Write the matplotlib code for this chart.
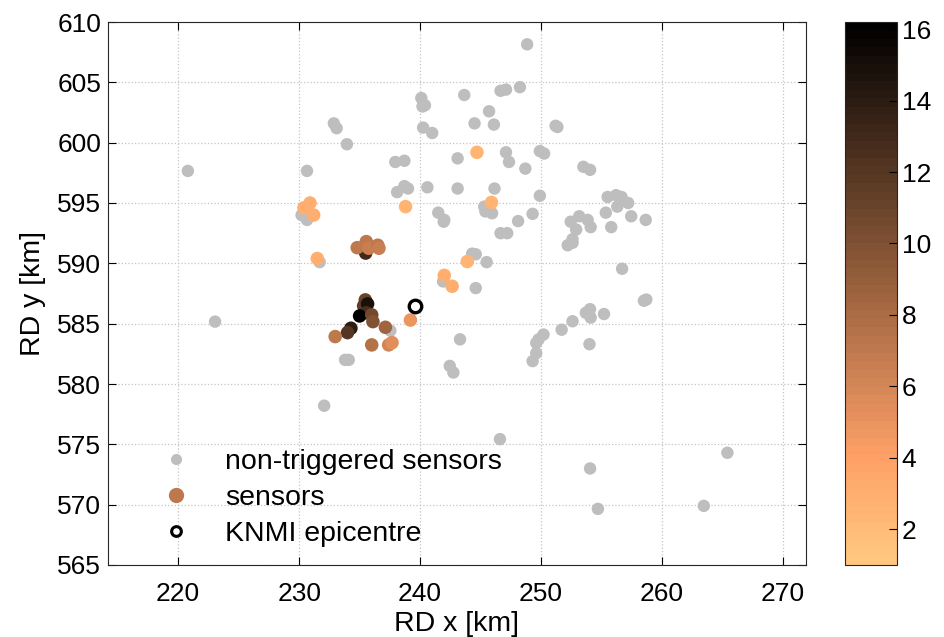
import matplotlib
matplotlib.use('Agg')
import matplotlib.pyplot as plt
import numpy as np
from matplotlib.lines import Line2D

plt.rcParams['font.family'] = ['Liberation Sans', 'DejaVu Sans']

# Non-triggered sensors (RD coordinates, km)
grey_x = [220.8, 223.05, 230.65, 232.87, 233.1, 233.95, 237.95, 238.7, 238.1, 238.7,
          239.0, 240.6, 240.1, 240.2, 240.4, 240.25, 241.0, 241.5, 242.0, 230.2,
          230.65, 248.85, 243.65, 246.65, 247.1, 248.25, 245.7, 246.1, 244.5, 251.2,
          251.35, 243.1, 247.1, 247.35, 248.7, 249.9, 250.25, 253.5, 254.05, 243.1,
          246.15, 249.9, 245.3, 245.4, 245.95, 248.1, 249.3, 246.65, 247.2, 255.5,
          256.2, 256.65, 257.2, 255.35, 256.3, 257.45, 258.65, 255.8, 252.45, 253.15,
          253.85, 254.1, 252.9, 252.6, 252.2, 252.6, 244.3, 244.6, 245.5, 241.9,
          244.6, 256.7, 258.5, 258.7, 253.7, 254.05, 254.1, 255.2, 252.6, 251.7,
          250.2, 249.6, 249.8, 249.6, 249.3, 254.0, 243.3, 242.45, 242.75, 246.6,
          254.05, 265.4, 254.7, 263.45, 232.07, 233.8, 234.1, 237.54, 231.7, 241.95]
grey_y = [597.66, 585.17, 597.66, 601.6, 601.2, 599.87, 598.4, 598.5, 595.9, 596.4,
          596.2, 596.3, 603.7, 603.0, 603.1, 601.25, 600.8, 594.2, 593.6, 594.0,
          593.6, 608.15, 603.95, 604.3, 604.4, 604.6, 602.6, 601.5, 601.6, 601.4,
          601.3, 598.7, 599.2, 598.4, 597.85, 599.3, 599.1, 598.0, 597.75, 596.2,
          596.2, 595.6, 594.7, 594.3, 594.15, 593.5, 594.1, 592.5, 592.5, 595.5,
          595.65, 595.5, 595.0, 594.2, 594.7, 593.9, 593.6, 593.0, 593.45, 593.9,
          593.6, 593.0, 592.8, 592.0, 591.5, 591.7, 590.8, 590.75, 590.1, 588.5,
          587.95, 589.55, 586.9, 587.0, 585.9, 586.2, 585.5, 585.8, 585.2, 584.5,
          584.1, 583.4, 583.7, 582.55, 581.9, 583.3, 583.7, 581.5, 580.95, 575.43,
          573.0, 574.3, 569.65, 569.9, 578.2, 582.0, 582.0, 584.42, 590.1, 593.45]

# Triggered sensors and number of triggers
sens_x = [230.9, 230.4, 231.2, 238.8, 244.7, 245.9, 231.5, 243.9, 242.0, 242.65,
          239.2, 235.5, 234.8, 235.55, 235.75, 236.5, 236.6,
          235.47, 235.33, 235.66, 235.55, 235.0, 236.0, 236.1, 234.28, 234.0, 232.98,
          237.13, 236.0, 237.4, 237.68]
sens_y = [595.0, 594.6, 594.0, 594.7, 599.2, 595.05, 590.4, 590.15, 589.0, 588.1,
          585.3, 590.85, 591.3, 591.8, 591.25, 591.5, 591.25,
          586.97, 586.47, 586.64, 585.9, 585.64, 585.73, 585.17, 584.62, 584.26, 583.93,
          584.7, 583.24, 583.24, 583.43]
sens_n = [3, 3, 3, 2.5, 2.5, 2.5, 3, 2.5, 3, 3,
          5, 13, 7, 7, 6.5, 7, 6.5,
          11, 11.5, 15, 12.5, 16, 10.5, 10, 14, 12, 7,
          8.5, 7.5, 6, 5.5]

epi_x = [239.55]
epi_y = [586.5]

cbar_ticks = [2, 4, 6, 8, 10, 12, 14, 16]

fig = plt.figure(figsize=(9.44, 6.37), dpi=100)
ax = fig.add_axes([108 / 944, 72 / 637, 698 / 944, 543 / 637])
cax = fig.add_axes([845 / 944, 72 / 637, 52 / 944, 543 / 637])

cmap = plt.get_cmap('copper_r', 64)

ax.grid(True, linestyle=':', color='#c4c4c4', linewidth=0.9)
ax.set_axisbelow(True)

ax.scatter(grey_x, grey_y, s=80, color='#bebebe', edgecolors='none', zorder=2)
sc = ax.scatter(sens_x, sens_y, s=95, c=sens_n, cmap=cmap, vmin=1, vmax=16.2,
                edgecolors='none', zorder=3)
ax.plot(epi_x, epi_y, 'o', markersize=9, markerfacecolor='white',
        markeredgecolor='black', markeredgewidth=2.4, zorder=4)

ax.set_xlim(214.2, 271.9)
ax.set_ylim(565, 610)
ax.set_xticks(np.arange(220, 271, 10))
ax.set_yticks(np.arange(565, 611, 5))
ax.tick_params(direction='in', length=6, top=True, right=True, labelsize=19, pad=5)
ax.tick_params(axis='x', pad=12)
for sp in ax.spines.values():
    sp.set_color('#262626')
ax.set_xlabel('RD x [km]', fontsize=20.5, labelpad=4)
ax.set_ylabel('RD y [km]', fontsize=20.5, labelpad=8)

# Legend
handles = [
    Line2D([], [], linestyle='none', marker='o', markersize=8, color='#bebebe',
           markeredgecolor='none', label='non-triggered sensors'),
    Line2D([], [], linestyle='none', marker='o', markersize=11, color=cmap(0.4),
           markeredgecolor='none', label='sensors'),
    Line2D([], [], linestyle='none', marker='o', markersize=7, markerfacecolor='white',
           markeredgecolor='black', markeredgewidth=2.2, label='KNMI epicentre'),
]
ax.legend(handles=handles, loc='lower left', bbox_to_anchor=(0.0243, -0.008), frameon=False,
          fontsize=20.5, handletextpad=0.72, labelspacing=0.34, borderaxespad=0.4)

cb = fig.colorbar(sc, cax=cax, ticks=cbar_ticks)
cb.ax.tick_params(direction='in', length=6, labelsize=19)
cb.outline.set_edgecolor('#262626')

fig.savefig('out.png', dpi=100)
